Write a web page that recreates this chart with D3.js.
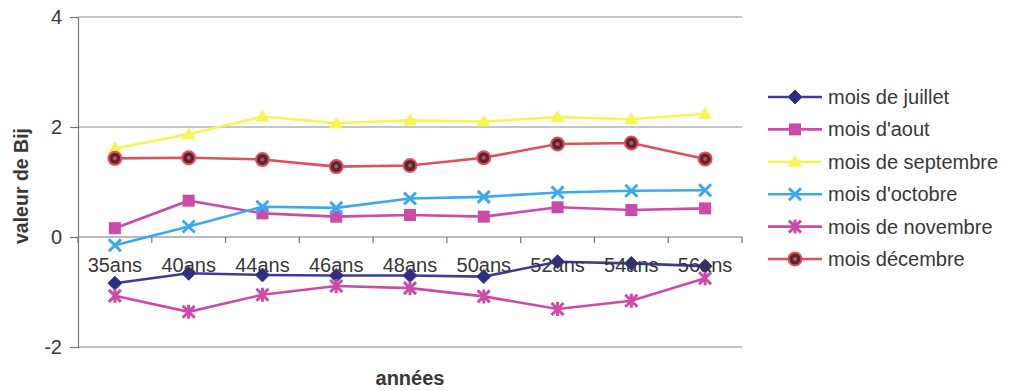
<!DOCTYPE html>
<html>
<head>
<meta charset="utf-8">
<script src="https://cdn.jsdelivr.net/npm/d3@7"></script>
<style>
  html, body { margin: 0; padding: 0; background: #fff; }
  svg { display: block; font-family: Arial, "Liberation Sans", sans-serif; }
</style>
</head>
<body>
<svg id="chart" width="1010" height="391"></svg>
<script>
// Age groups on the horizontal axis
const categories = ["35ans", "40ans", "44ans", "46ans", "48ans", "50ans", "52ans", "54ans", "56ans"];

// Bij values per month
const juillet   = [-0.84, -0.66, -0.69, -0.70, -0.70, -0.72, -0.45, -0.48, -0.53];
const aout      = [0.16, 0.66, 0.43, 0.37, 0.40, 0.37, 0.54, 0.49, 0.52];
const septembre = [1.61, 1.87, 2.19, 2.07, 2.12, 2.10, 2.18, 2.14, 2.24];
const octobre   = [-0.15, 0.19, 0.55, 0.53, 0.70, 0.73, 0.81, 0.84, 0.85];
const novembre  = [-1.07, -1.36, -1.05, -0.89, -0.93, -1.08, -1.31, -1.16, -0.75];
const decembre  = [1.43, 1.44, 1.41, 1.28, 1.30, 1.44, 1.69, 1.71, 1.42];

const seriesNames = ["mois de juillet", "mois d'aout", "mois de septembre",
                     "mois d'octobre", "mois de novembre", "mois décembre"];
const yTicks = [-2, 0, 2, 4];

const series = [
  { name: seriesNames[0], values: juillet,   color: "#3d3a9c", marker: "diamond" },
  { name: seriesNames[1], values: aout,      color: "#cc4aa8", marker: "square" },
  { name: seriesNames[2], values: septembre, color: "#f6f652", marker: "triangle" },
  { name: seriesNames[3], values: octobre,   color: "#3aa8f4", marker: "cross" },
  { name: seriesNames[4], values: novembre,  color: "#cc4aa8", marker: "asterisk" },
  { name: seriesNames[5], values: decembre,  color: "#e0505c", marker: "circle" }
];

const textColor = "#383838";
const svg = d3.select("#chart");
const plot = { left: 78, right: 742, top: 17, bottom: 347 };

const x = d3.scaleBand().domain(categories).range([plot.left, plot.right]);
const y = d3.scaleLinear().domain([-2, 4]).range([plot.bottom, plot.top]);
const cx = c => x(c) + x.bandwidth() / 2;

// Horizontal gridlines
svg.append("g")
  .selectAll("line")
  .data(yTicks.filter(v => v !== 0))
  .join("line")
  .attr("x1", plot.left).attr("x2", plot.right)
  .attr("y1", d => y(d)).attr("y2", d => y(d))
  .attr("stroke", "#8a8a8a").attr("stroke-width", 1.2);

// Vertical axis
const yAxis = svg.append("g")
  .attr("transform", `translate(${plot.left},0)`)
  .call(d3.axisLeft(y).tickValues(yTicks).tickSize(8).tickPadding(8).tickFormat(d => String(d)));
yAxis.select(".domain").attr("stroke", "#777").attr("stroke-width", 1.2);
yAxis.selectAll(".tick line").attr("stroke", "#777").attr("stroke-width", 1.2);
yAxis.selectAll(".tick text")
  .attr("font-size", 20).attr("fill", textColor)
  .attr("font-family", "Arial, 'Liberation Sans', sans-serif");

// Horizontal axis at zero with category boundary ticks
const xAxisG = svg.append("g");
xAxisG.append("line")
  .attr("x1", plot.left).attr("x2", plot.right)
  .attr("y1", y(0)).attr("y2", y(0))
  .attr("stroke", "#777").attr("stroke-width", 1.2);
xAxisG.selectAll("line.tk")
  .data(categories.map(c => x(c)).concat([plot.right]))
  .join("line").attr("class", "tk")
  .attr("x1", d => d).attr("x2", d => d)
  .attr("y1", y(0)).attr("y2", y(0) + 6)
  .attr("stroke", "#777").attr("stroke-width", 1.2);

// Markers
function drawMarker(g, type, color, px, py) {
  if (type === "diamond") {
    g.append("path").attr("d", `M${px},${py - 7}L${px + 7},${py}L${px},${py + 7}L${px - 7},${py}Z`)
      .attr("fill", "#2e2c84").attr("stroke", color).attr("stroke-width", 1);
  } else if (type === "square") {
    g.append("rect").attr("x", px - 6).attr("y", py - 6).attr("width", 12).attr("height", 12)
      .attr("fill", color);
  } else if (type === "triangle") {
    g.append("path").attr("d", `M${px},${py - 7}L${px + 7},${py + 5}L${px - 7},${py + 5}Z`)
      .attr("fill", color);
  } else if (type === "cross") {
    g.append("path").attr("d", `M${px - 6},${py - 6}L${px + 6},${py + 6}M${px - 6},${py + 6}L${px + 6},${py - 6}`)
      .attr("stroke", color).attr("stroke-width", 3).attr("fill", "none");
  } else if (type === "asterisk") {
    g.append("path").attr("d",
      `M${px - 6},${py - 6}L${px + 6},${py + 6}M${px - 6},${py + 6}L${px + 6},${py - 6}M${px},${py - 7}L${px},${py + 7}`)
      .attr("stroke", color).attr("stroke-width", 3).attr("fill", "none");
  } else if (type === "circle") {
    g.append("circle").attr("cx", px).attr("cy", py).attr("r", 6.5)
      .attr("fill", "#5e2430").attr("stroke", color).attr("stroke-width", 2);
    g.append("circle").attr("cx", px).attr("cy", py).attr("r", 2)
      .attr("fill", "#a06068");
  }
}

const line = d3.line().x((d, i) => cx(categories[i])).y(d => y(d));

series.forEach(s => {
  const g = svg.append("g");
  g.append("path").datum(s.values)
    .attr("d", line).attr("fill", "none")
    .attr("stroke", s.color).attr("stroke-width", 2.6);
  s.values.forEach((v, i) => drawMarker(g, s.marker, s.color, cx(categories[i]), y(v)));
});

// Category labels sit just below the zero line
svg.append("g").selectAll("text")
  .data(categories)
  .join("text")
  .attr("x", d => cx(d)).attr("y", y(0) + 35)
  .attr("text-anchor", "middle")
  .attr("font-size", 20).attr("fill", textColor)
  .text(d => d);

// Axis titles
svg.append("text")
  .attr("transform", `translate(28,${(plot.top + plot.bottom) / 2 + 4}) rotate(-90)`)
  .attr("text-anchor", "middle")
  .attr("font-size", 19.5).attr("font-weight", "bold").attr("fill", textColor)
  .text("valeur de Bij");

svg.append("text")
  .attr("x", (plot.left + plot.right) / 2).attr("y", 385)
  .attr("text-anchor", "middle")
  .attr("font-size", 20).attr("font-weight", "bold").attr("fill", textColor)
  .text("années");

// Legend
const legend = svg.append("g");
series.forEach((s, i) => {
  const ly = 97 + i * 32.4;
  const g = legend.append("g");
  g.append("line").attr("x1", 768).attr("x2", 822).attr("y1", ly).attr("y2", ly)
    .attr("stroke", s.color).attr("stroke-width", 2.6);
  drawMarker(g, s.marker, s.color, 795, ly);
  g.append("text").attr("x", 828).attr("y", ly + 7)
    .attr("font-size", 20).attr("fill", textColor)
    .text(s.name);
});
</script>
</body>
</html>
